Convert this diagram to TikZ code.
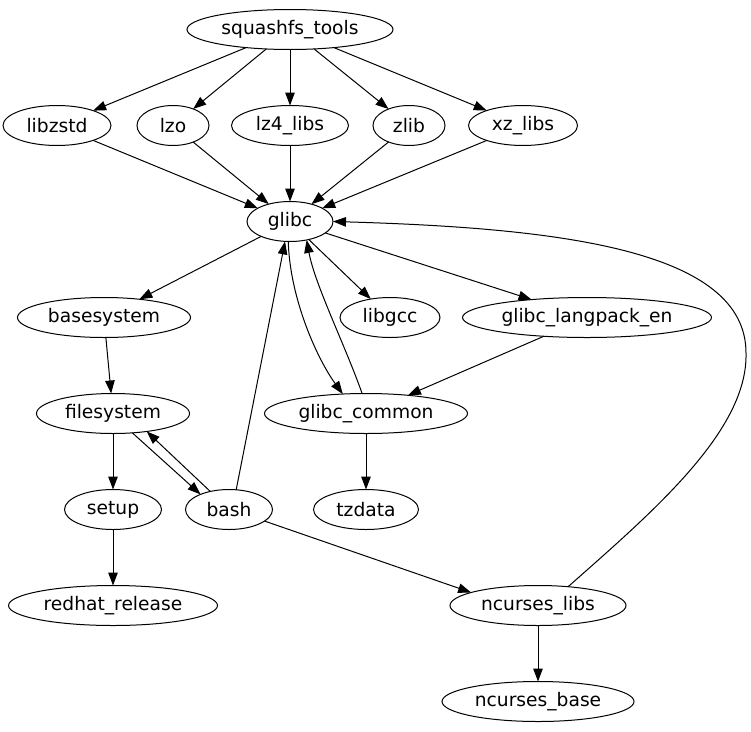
\documentclass[tikz,border=0pt]{standalone}
\usepackage{fontspec}
\setmainfont{DejaVu Sans}
\usetikzlibrary{shapes.geometric,arrows.meta}
\begin{document}
\begin{tikzpicture}[x=1pt,y=-1pt,
  nd/.style={ellipse,draw,line width=1pt,inner sep=0pt,outer sep=0pt,minimum height=40pt,font=\fontsize{18.67pt}{22pt}\selectfont},
  ed/.style={line width=1pt,-{Triangle[length=13pt,width=9.5pt]}}]
\useasboundingbox (0,0) rectangle (751,731);
\node[nd,minimum width=206pt] (sq) at (290,29.5) {squashfs\_tools};
\node[nd,minimum width=108pt] (zstd) at (57,125.5) {libzstd};
\node[nd,minimum width=72pt] (lzo) at (173,125.5) {lzo};
\node[nd,minimum width=117pt] (lz4) at (290,125.5) {lz4\_libs};
\node[nd,minimum width=72pt] (zlib) at (409,125.5) {zlib};
\node[nd,minimum width=109pt] (xz) at (523,125.5) {xz\_libs};
\node[nd,minimum width=86pt] (glibc) at (290,221.5) {glibc};
\node[nd,minimum width=173pt] (base) at (104,317.5) {basesystem};
\node[nd,minimum width=100pt] (libgcc) at (390,317.5) {libgcc};
\node[nd,minimum width=249pt] (lang) at (587,317.5) {glibc\_langpack\_en};
\node[nd,minimum width=153pt] (fs) at (113,413.5) {filesystem};
\node[nd,minimum width=203pt] (gc) at (366,413.5) {glibc\_common};
\node[nd,minimum width=97pt] (setup) at (113,509.5) {setup};
\node[nd,minimum width=87pt] (bash) at (229,509.5) {bash};
\node[nd,minimum width=105pt] (tz) at (366,509.5) {tzdata};
\node[nd,minimum width=209pt] (rr) at (113,605.5) {redhat\_release};
\node[nd,minimum width=176pt] (ncl) at (538,605.5) {ncurses\_libs};
\node[nd,minimum width=192pt] (ncb) at (538,701.5) {ncurses\_base};
\coordinate (rt) at (746,353);
\foreach \n in {zstd,lzo,lz4,zlib,xz} {
  \draw[ed] (sq) -- (\n);
  \draw[ed] (\n) -- (glibc);
}
\draw[ed] (glibc) -- (base);
\draw[ed] (glibc) -- (libgcc);
\draw[ed] (glibc) -- (lang);
\draw[ed] (glibc.265) .. controls (290,300) and (318,360) .. (gc.140);
\draw[ed] (gc.101) .. controls (345,345) and (315,285) .. (glibc.312);
\draw[ed] (lang) -- (gc);
\draw[ed] (base) -- (fs);
\draw[ed] (fs) -- (setup);
\draw[ed] (fs.315) -- (bash.152);
\draw[ed] (bash.136) -- (fs.332);
\draw[ed] (bash.70) -- (glibc.256);
\draw[ed] (bash.342) -- (ncl.169);
\draw[ed] (gc) -- (tz);
\draw[ed] (setup) -- (rr);
\draw[ed] (ncl) -- (ncb);
\draw[ed] (ncl.32) .. controls (655,510) and (748,430) .. (rt) .. controls (746,250) and (560,228) .. (glibc.east);
\end{tikzpicture}
\end{document}
